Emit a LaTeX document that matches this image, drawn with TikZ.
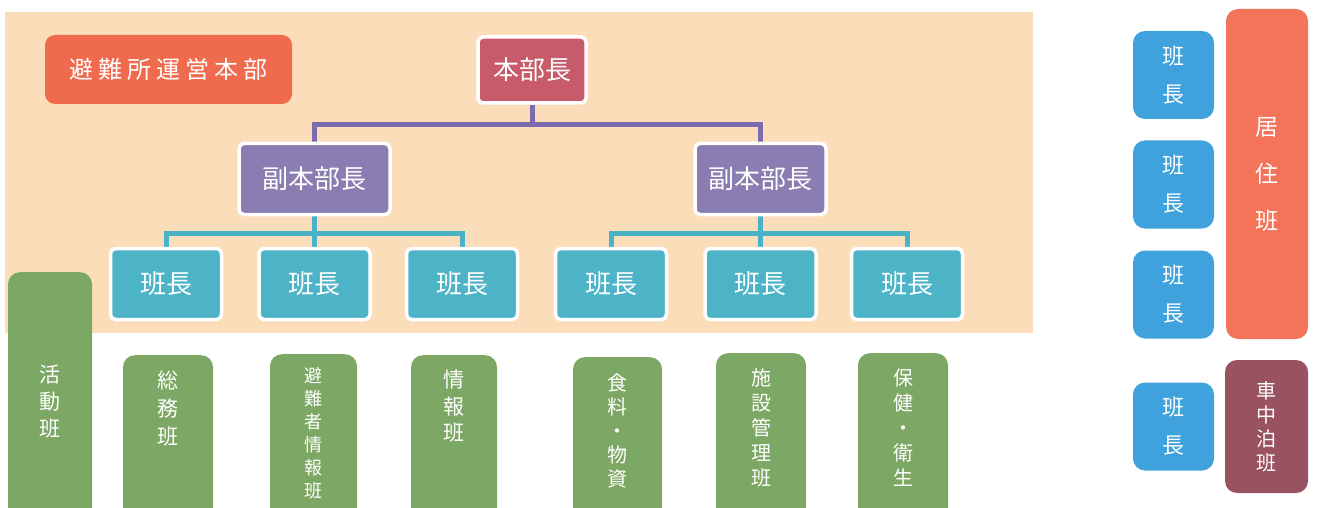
\documentclass[tikz,border=0pt]{standalone}
\usepackage{fontspec}
\setmainfont{Noto Sans CJK JP}
\definecolor{peach}{HTML}{FBDDB9}
\definecolor{titlered}{HTML}{F06A4E}
\definecolor{hqred}{HTML}{C75B69}
\definecolor{vpurple}{HTML}{8A7DB1}
\definecolor{scyan}{HTML}{4DB4C8}
\definecolor{gboxc}{HTML}{7DA764}
\definecolor{rblue}{HTML}{3FA2DC}
\definecolor{kyoc}{HTML}{F4745A}
\definecolor{shac}{HTML}{985260}
\definecolor{plinec}{HTML}{7C6CAD}
\definecolor{clinec}{HTML}{4AB2C6}
\pgfdeclarelayer{bglayer}
\pgfdeclarelayer{linelayer}
\pgfsetlayers{bglayer,linelayer,main}
\begin{document}
\begin{tikzpicture}[x=1pt,y=-1pt,
  box/.style={draw=white, line width=3.5pt, rounded corners=5pt, text=white, inner sep=0pt,
    font=\fontsize{26}{30}\selectfont},
  hqbox/.style={box, fill=hqred, minimum width=108pt, minimum height=66pt},
  vbox/.style={box, fill=vpurple, minimum height=71pt},
  sbox/.style={box, fill=scyan, minimum width=111pt, minimum height=71pt},
  gbox/.style={fill=gboxc, rounded corners=12pt, inner sep=0pt, anchor=north},
  gtext/.style={text=white, inner sep=0pt, align=center},
  rbox/.style={fill=rblue, rounded corners=12pt, inner sep=0pt, text=white, align=center,
    minimum width=81pt, minimum height=88pt, font=\fontsize{22}{38}\selectfont},
  pline/.style={draw=plinec, line width=5pt},
  cline/.style={draw=clinec, line width=5pt}]
\useasboundingbox (0,0) rectangle (1317,508);
\clip (0,0) rectangle (1317,508);
\begin{pgfonlayer}{bglayer}
\fill[white] (0,0) rectangle (1317,508);
\fill[peach] (5,12) rectangle (1033,333);
\end{pgfonlayer}
% title
\node[fill=titlered, rounded corners=10pt, minimum width=247pt, minimum height=69pt, text=white,
  font=\fontsize{24}{28}\selectfont] (title) at (168.5,69.5)
  {避\hspace{5pt}難\hspace{5pt}所\hspace{5pt}運\hspace{5pt}営\hspace{5pt}本\hspace{5pt}部};
% hierarchy
\node[hqbox] (hq) at (532,70) {本部長};
\node[vbox, minimum width=151pt] (v1) at (314.5,179) {副本部長};
\node[vbox, minimum width=131pt] (v2) at (760.5,179) {副本部長};
\node[sbox] (s1) at (166,284) {班長};
\node[sbox] (s2) at (314.5,284) {班長};
\node[sbox] (s3) at (462,284) {班長};
\node[sbox] (s4) at (611,284) {班長};
\node[sbox] (s5) at (760.5,284) {班長};
\node[sbox] (s6) at (907,284) {班長};
\coordinate (pbar) at (532,125);
\coordinate (cbar1) at (314.5,233);
\coordinate (cbar2) at (760.5,233);
\begin{pgfonlayer}{linelayer}
\draw[pline] (hq.south) -- (pbar);
\draw[pline] (v1.north) |- (pbar) -| (v2.north);
\draw[cline] (v1.south) -- (s2.north);
\draw[cline] (s1.north) |- (cbar1) -| (s3.north);
\draw[cline] (v2.south) -- (s5.north);
\draw[cline] (s4.north) |- (cbar2) -| (s6.north);
\end{pgfonlayer}
% green boxes
\node[gbox, minimum width=84pt, minimum height=260pt] (g0) at (50,272) {};
\node[gtext, font=\fontsize{21}{27}\selectfont] (t0) at (50,402) {活\\動\\班};
\node[gbox, minimum width=90pt, minimum height=170pt] (g1) at (168,355) {};
\node[gtext, font=\fontsize{21}{28}\selectfont] (t1) at (168,409) {総\\務\\班};
\node[gbox, minimum width=87pt, minimum height=170pt] (g2) at (313.5,354) {};
\node[gtext, font=\fontsize{18}{23}\selectfont] (t2) at (313.5,433) {避\\難\\者\\情\\報\\班};
\node[gbox, minimum width=86pt, minimum height=170pt] (g3) at (454,355) {};
\node[gtext, font=\fontsize{21}{26.5}\selectfont] (t3) at (454,406.5) {情\\報\\班};
\node[gbox, minimum width=89pt, minimum height=170pt] (g4) at (617.5,357) {};
\node[gtext, font=\fontsize{20}{24}\selectfont] (t4) at (617.5,430.5) {食\\料\\・\\物\\資};
\node[gbox, minimum width=90pt, minimum height=170pt] (g5) at (761,353) {};
\node[gtext, font=\fontsize{20}{25}\selectfont] (t5) at (761,428) {施\\設\\管\\理\\班};
\node[gbox, minimum width=90pt, minimum height=170pt] (g6) at (903,353) {};
\node[gtext, font=\fontsize{20}{25}\selectfont] (t6) at (903,427.5) {保\\健\\・\\衛\\生};
% right side
\node[rbox] (b1) at (1173.5,75) {班\\長};
\node[rbox] (b2) at (1173.5,184.5) {班\\長};
\node[rbox] (b3) at (1173.5,294.5) {班\\長};
\node[rbox] (b4) at (1173.5,426.5) {班\\長};
\node[fill=kyoc, rounded corners=12pt, inner sep=0pt, text=white, align=center,
  minimum width=82pt, minimum height=330pt, font=\fontsize{23}{47}\selectfont] (kyo) at (1267,174) {居\\住\\班};
\node[fill=shac, rounded corners=12pt, inner sep=0pt, text=white, align=center,
  minimum width=83pt, minimum height=133pt, font=\fontsize{20}{24}\selectfont] (sha) at (1266.5,426.5) {車\\中\\泊\\班};
\end{tikzpicture}
\end{document}
